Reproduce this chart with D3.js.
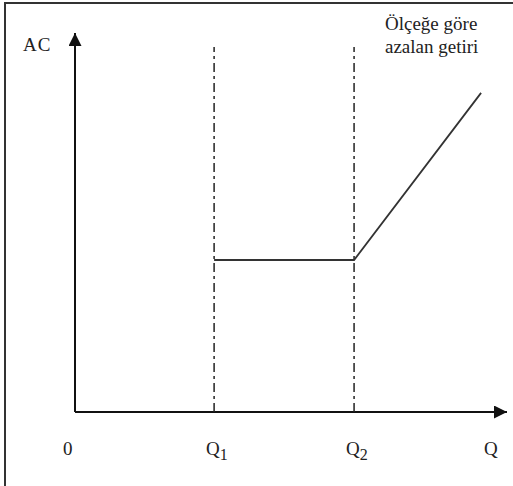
<!DOCTYPE html>
<html>
<head>
<meta charset="utf-8">
<script src="https://cdn.jsdelivr.net/npm/d3@7"></script>
<style>
  body { margin: 0; background: #fff; }
  text { font-family: "Liberation Serif", "Times New Roman", serif; font-size: 19px; fill: #222; }
</style>
</head>
<body>
<svg id="chart"></svg>
<script>
// long-run average cost curve, in abstract units (0-100 on both axes)
const qMarks = [
  { label: 'Q', sub: '1', q: 32.2 },
  { label: 'Q', sub: '2', q: 64.6 }
];
const acCurve = [
  { q: 32.2, ac: 40.1 },
  { q: 64.6, ac: 40.1 },
  { q: 94.0, ac: 84.2 }
];
const curveNote = ['Ölçeğe göre', 'azalan getiri'];
const axisLabels = { x: 'Q', y: 'AC', origin: '0' };

const width = 513, height = 486;

const svg = d3.select('#chart')
  .attr('width', width)
  .attr('height', height);

const x = d3.scaleLinear().domain([0, 100]).range([75, 507]);
const y = d3.scaleLinear().domain([0, 100]).range([412, 33]);

// outer frame (right/bottom edges fall outside the picture)
svg.append('rect')
  .attr('x', 5).attr('y', 3)
  .attr('width', width).attr('height', height)
  .attr('fill', 'none')
  .attr('stroke', '#333')
  .attr('stroke-width', 2);

svg.append('defs').append('marker')
  .attr('id', 'arrow')
  .attr('viewBox', '0 0 10 10')
  .attr('refX', 10).attr('refY', 5)
  .attr('markerWidth', 16).attr('markerHeight', 13)
  .attr('markerUnits', 'userSpaceOnUse')
  .attr('orient', 'auto')
  .append('path')
  .attr('d', 'M0,0L10,5L0,10Z')
  .attr('fill', '#111');

// axes
svg.append('line')
  .attr('x1', x(0)).attr('y1', y(0))
  .attr('x2', x(100)).attr('y2', y(0))
  .attr('stroke', '#111').attr('stroke-width', 2)
  .attr('marker-end', 'url(#arrow)');

svg.append('line')
  .attr('x1', x(0)).attr('y1', y(0))
  .attr('x2', x(0)).attr('y2', y(100))
  .attr('stroke', '#111').attr('stroke-width', 2)
  .attr('marker-end', 'url(#arrow)');

// dash-dot guides at Q1, Q2
svg.selectAll('.guide')
  .data(qMarks)
  .enter().append('line')
  .attr('class', 'guide')
  .attr('x1', d => x(d.q)).attr('x2', d => x(d.q))
  .attr('y1', y(0)).attr('y2', y(96.3))
  .attr('stroke', '#222')
  .attr('stroke-width', 1.5)
  .attr('stroke-dasharray', '9,4,3,4');

// AC curve
const line = d3.line()
  .x(d => x(d.q))
  .y(d => y(d.ac));

svg.append('path')
  .datum(acCurve)
  .attr('d', line)
  .attr('fill', 'none')
  .attr('stroke', '#333')
  .attr('stroke-width', 1.8);

// tick labels
const qLabels = svg.selectAll('.qlabel')
  .data(qMarks)
  .enter().append('text')
  .attr('class', 'qlabel')
  .attr('x', d => x(d.q) - 8)
  .attr('y', 455);
qLabels.append('tspan').text(d => d.label);
qLabels.append('tspan')
  .attr('dy', 5)
  .attr('font-size', '16px')
  .text(d => d.sub);

svg.append('text')
  .attr('x', 63).attr('y', 455)
  .text(axisLabels.origin);

svg.append('text')
  .attr('x', 484).attr('y', 455)
  .text(axisLabels.x);

svg.append('text')
  .attr('x', 23).attr('y', 51)
  .attr('letter-spacing', 1)
  .text(axisLabels.y);

svg.selectAll('.note')
  .data(curveNote)
  .enter().append('text')
  .attr('class', 'note')
  .attr('x', 385)
  .attr('y', (d, i) => 30 + i * 23)
  .text(d => d);
</script>
</body>
</html>
